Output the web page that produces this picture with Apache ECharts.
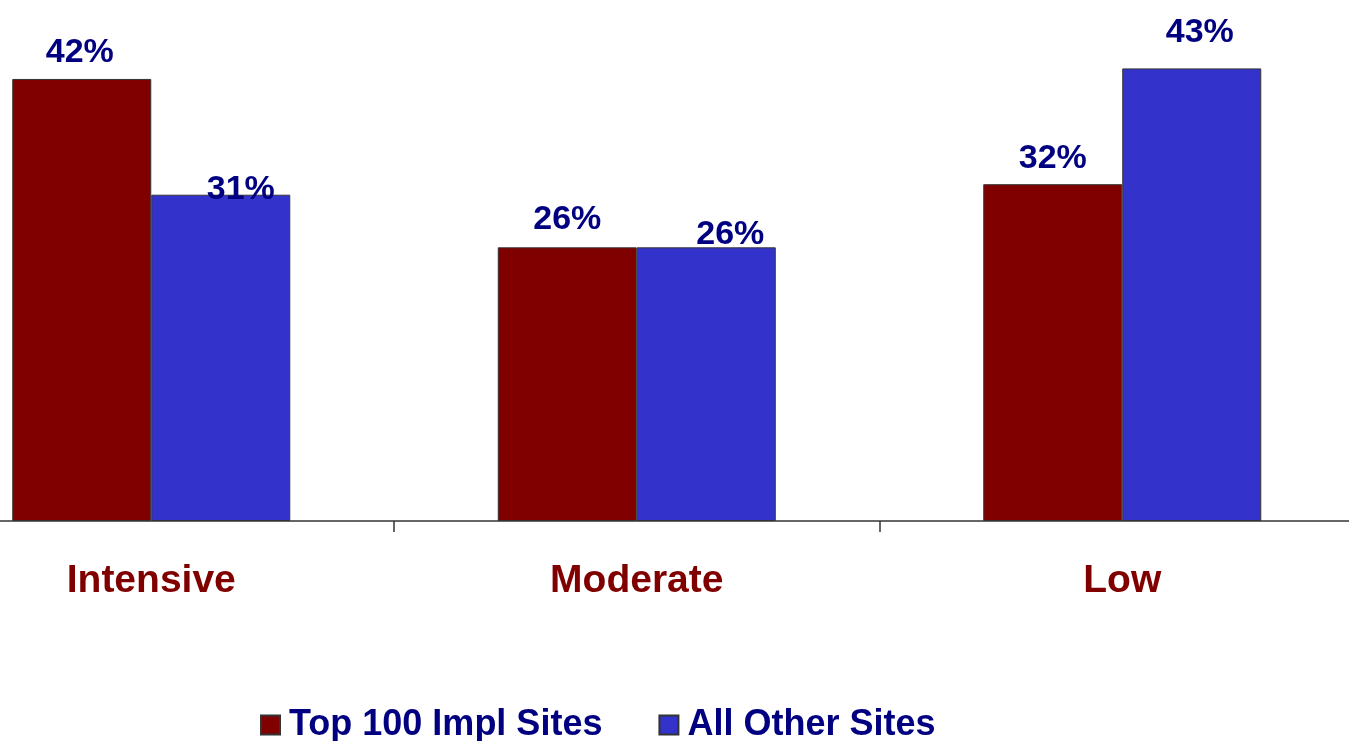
<!DOCTYPE html>
<html>
<head>
<meta charset="utf-8">
<script src="https://cdn.jsdelivr.net/npm/echarts@6/dist/echarts.min.js"></script>
<style>
  html, body { margin: 0; padding: 0; background: #fff; }
  #chart { width: 1349px; height: 741px; }
</style>
</head>
<body>
<div id="chart"></div>
<script>
var categories = ["Intensive", "Moderate", "Low"];
var seriesNames = ["Top 100 Impl Sites", "All Other Sites"];
var topSites = [42, 26, 32];
var otherSites = [31, 26, 43];

// label nudges [dx, dy] per bar, the labels in the original sit unevenly
var topShift = [[-2, -9], [0, -11], [0, -9]];
var otherShift = [[20, 12], [24, 4], [8, -19]];

function withLabels(values, shift) {
  return values.map(function (v, i) {
    return { value: v, label: { offset: shift[i] } };
  });
}

var chart = echarts.init(document.getElementById("chart"));

var labelStyle = {
  show: true,
  position: "top",
  distance: 0,
  formatter: "{c}%",
  color: "#000080",
  fontFamily: "Liberation Sans, Arial, sans-serif",
  fontWeight: "bold",
  fontSize: 34
};

var option = {
  backgroundColor: "#fff",
  animation: false,
  grid: {
    left: -91.5,
    right: -16,
    top: 0,
    bottom: 220,
    containLabel: false,
    outerBoundsMode: "none"
  },
  legend: {
    data: seriesNames,
    left: 260,
    top: 707,
    padding: 0,
    itemGap: 56,
    itemWidth: 19,
    itemHeight: 19,
    icon: "rect",
    textStyle: {
      color: "#000080",
      fontFamily: "Liberation Sans, Arial, sans-serif",
      fontWeight: "bold",
      fontSize: 36,
      padding: [0, 0, 0, 4]
    }
  },
  xAxis: {
    type: "category",
    data: categories,
    axisLine: { lineStyle: { color: "#666", width: 2 } },
    axisTick: { show: true, length: 11, lineStyle: { color: "#333", width: 1.5 } },
    axisLabel: {
      margin: 41,
      color: "#800000",
      fontFamily: "Liberation Sans, Arial, sans-serif",
      fontWeight: "bold",
      fontSize: 39
    }
  },
  yAxis: {
    type: "value",
    min: 0,
    max: 49.5,
    show: false,
    splitLine: { show: false }
  },
  series: [
    {
      name: seriesNames[0],
      type: "bar",
      barWidth: 139,
      barGap: "0%",
      data: withLabels(topSites, topShift),
      itemStyle: { color: "#800000", borderColor: "#333", borderWidth: 1 },
      label: labelStyle
    },
    {
      name: seriesNames[1],
      type: "bar",
      barWidth: 139,
      barGap: "0%",
      data: withLabels(otherSites, otherShift),
      itemStyle: { color: "#3333cc", borderColor: "#333", borderWidth: 1 },
      label: labelStyle
    }
  ]
};

chart.setOption(option);
</script>
</body>
</html>
